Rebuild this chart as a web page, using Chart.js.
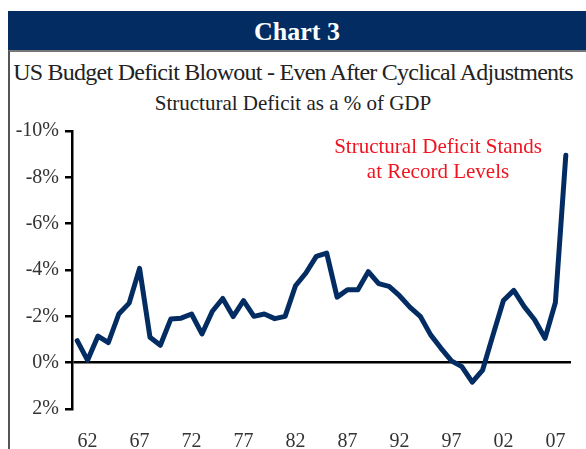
<!DOCTYPE html>
<html lang="en">
<head>
    <meta charset="UTF-8">
    <title>Chart 3</title>
    <script src="https://cdn.jsdelivr.net/npm/chart.js"></script>
    <style>
        html, body { margin: 0; padding: 0; background: #fff; }
        .page { position: relative; width: 586px; height: 449px; overflow: hidden; font-family: "Liberation Serif", serif; }
        .header { position: absolute; left: 8px; top: 11px; width: 578px; height: 39px; background: #032d62;
                  color: #fff; font-weight: bold; font-size: 26px; text-align: center; line-height: 41px; }
        .frame { position: absolute; left: 8px; top: 50px; width: 600px; height: 420px;
                 border-top: 2px solid #777; border-left: 2px solid #555; box-sizing: border-box; }
        .title { position: absolute; left: 0; width: 586px; text-align: center; color: #222; }
        #t1 { top: 59px; font-size: 24px; letter-spacing: -0.75px; }
        #t2 { top: 91px; font-size: 21px; }
        .note { position: absolute; left: 328px; top: 134px; width: 220px; text-align: center;
                color: #f0141e; font-size: 21px; line-height: 25px; }
        #chartBox { position: absolute; left: 0; top: 0; width: 586px; height: 449px; }
    </style>
</head>
<body>
    <div class="page">
        <div class="header">Chart 3</div>
        <div class="frame"></div>
        <div class="title" id="t1">US Budget Deficit Blowout - Even After Cyclical Adjustments</div>
        <div class="title" id="t2">Structural Deficit as a % of GDP</div>
        <div id="chartBox"><canvas id="deficitChart" width="586" height="449"></canvas></div>
        <div class="note">Structural Deficit Stands<br>at Record Levels</div>
    </div>
    <script>
        // years 1961 - 2008, shown as two digits
        const years=['61','62','63','64','65','66','67','68','69','70','71','72','73','74','75','76','77','78','79','80',
                     '81','82','83','84','85','86','87','88','89','90','91','92','93','94','95','96','97','98','99','00',
                     '01','02','03','04','05','06','07','08'];
        // structural deficit, % of GDP (negative = deficit)
        const deficit=[-0.95,-0.1,-1.15,-0.87,-2.1,-2.57,-4.07,-1.1,-0.75,-1.88,-1.92,-2.1,-1.24,-2.22,-2.77,-1.99,-2.68,-2.0,-2.1,-1.9,
                       -2.0,-3.32,-3.87,-4.59,-4.73,-2.83,-3.15,-3.15,-3.93,-3.41,-3.29,-2.89,-2.4,-2.0,-1.2,-0.62,-0.08,0.17,0.84,0.32,
                       -1.2,-2.68,-3.12,-2.42,-1.85,-1.05,-2.6,-8.95];
        const shownYears=['62','67','72','77','82','87','92','97','02','07'];

        const ctx=document.getElementById('deficitChart');
        const axisFont={family:'"Liberation Serif", serif', size:20};

        new Chart(ctx,{
            type:'line',
            data:{
                labels:years,
                datasets:[{
                    data:deficit,
                    borderColor:'#032d62',
                    borderWidth:5,
                    pointRadius:0,
                    tension:0,
                    borderJoinStyle:'round',
                    borderCapStyle:'round'
                }]
            },
            options:{
                responsive:false,
                animation:false,
                layout:{padding:{left:12,right:15,top:131,bottom:0}},
                plugins:{legend:{display:false},tooltip:{enabled:false}},
                scales:{
                    x:{
                        offset:true,
                        grid:{display:false},
                        border:{display:false},
                        afterFit:(s)=>{s.height=40;},
                        ticks:{
                            autoSkip:false,
                            maxRotation:0,
                            padding:13,
                            color:'#333',
                            font:axisFont,
                            callback:function(v){
                                const lab=this.getLabelForValue(v);
                                return shownYears.includes(lab)?lab:'';
                            }
                        }
                    },
                    y:{
                        reverse:true,
                        min:-10,
                        max:2,
                        afterFit:(s)=>{s.width=60;},
                        border:{display:true,color:'#000',width:2.5},
                        grid:{
                            drawOnChartArea:true,
                            color:(c)=>c.tick && c.tick.value===0?'#000':'rgba(0,0,0,0)',
                            tickColor:'#000',
                            tickLength:7,
                            lineWidth:2.5
                        },
                        ticks:{
                            stepSize:2,
                            padding:6,
                            color:'#333',
                            font:axisFont,
                            callback:(v)=>v+'%'
                        }
                    }
                }
            }
        });
    </script>
</body>
</html>
